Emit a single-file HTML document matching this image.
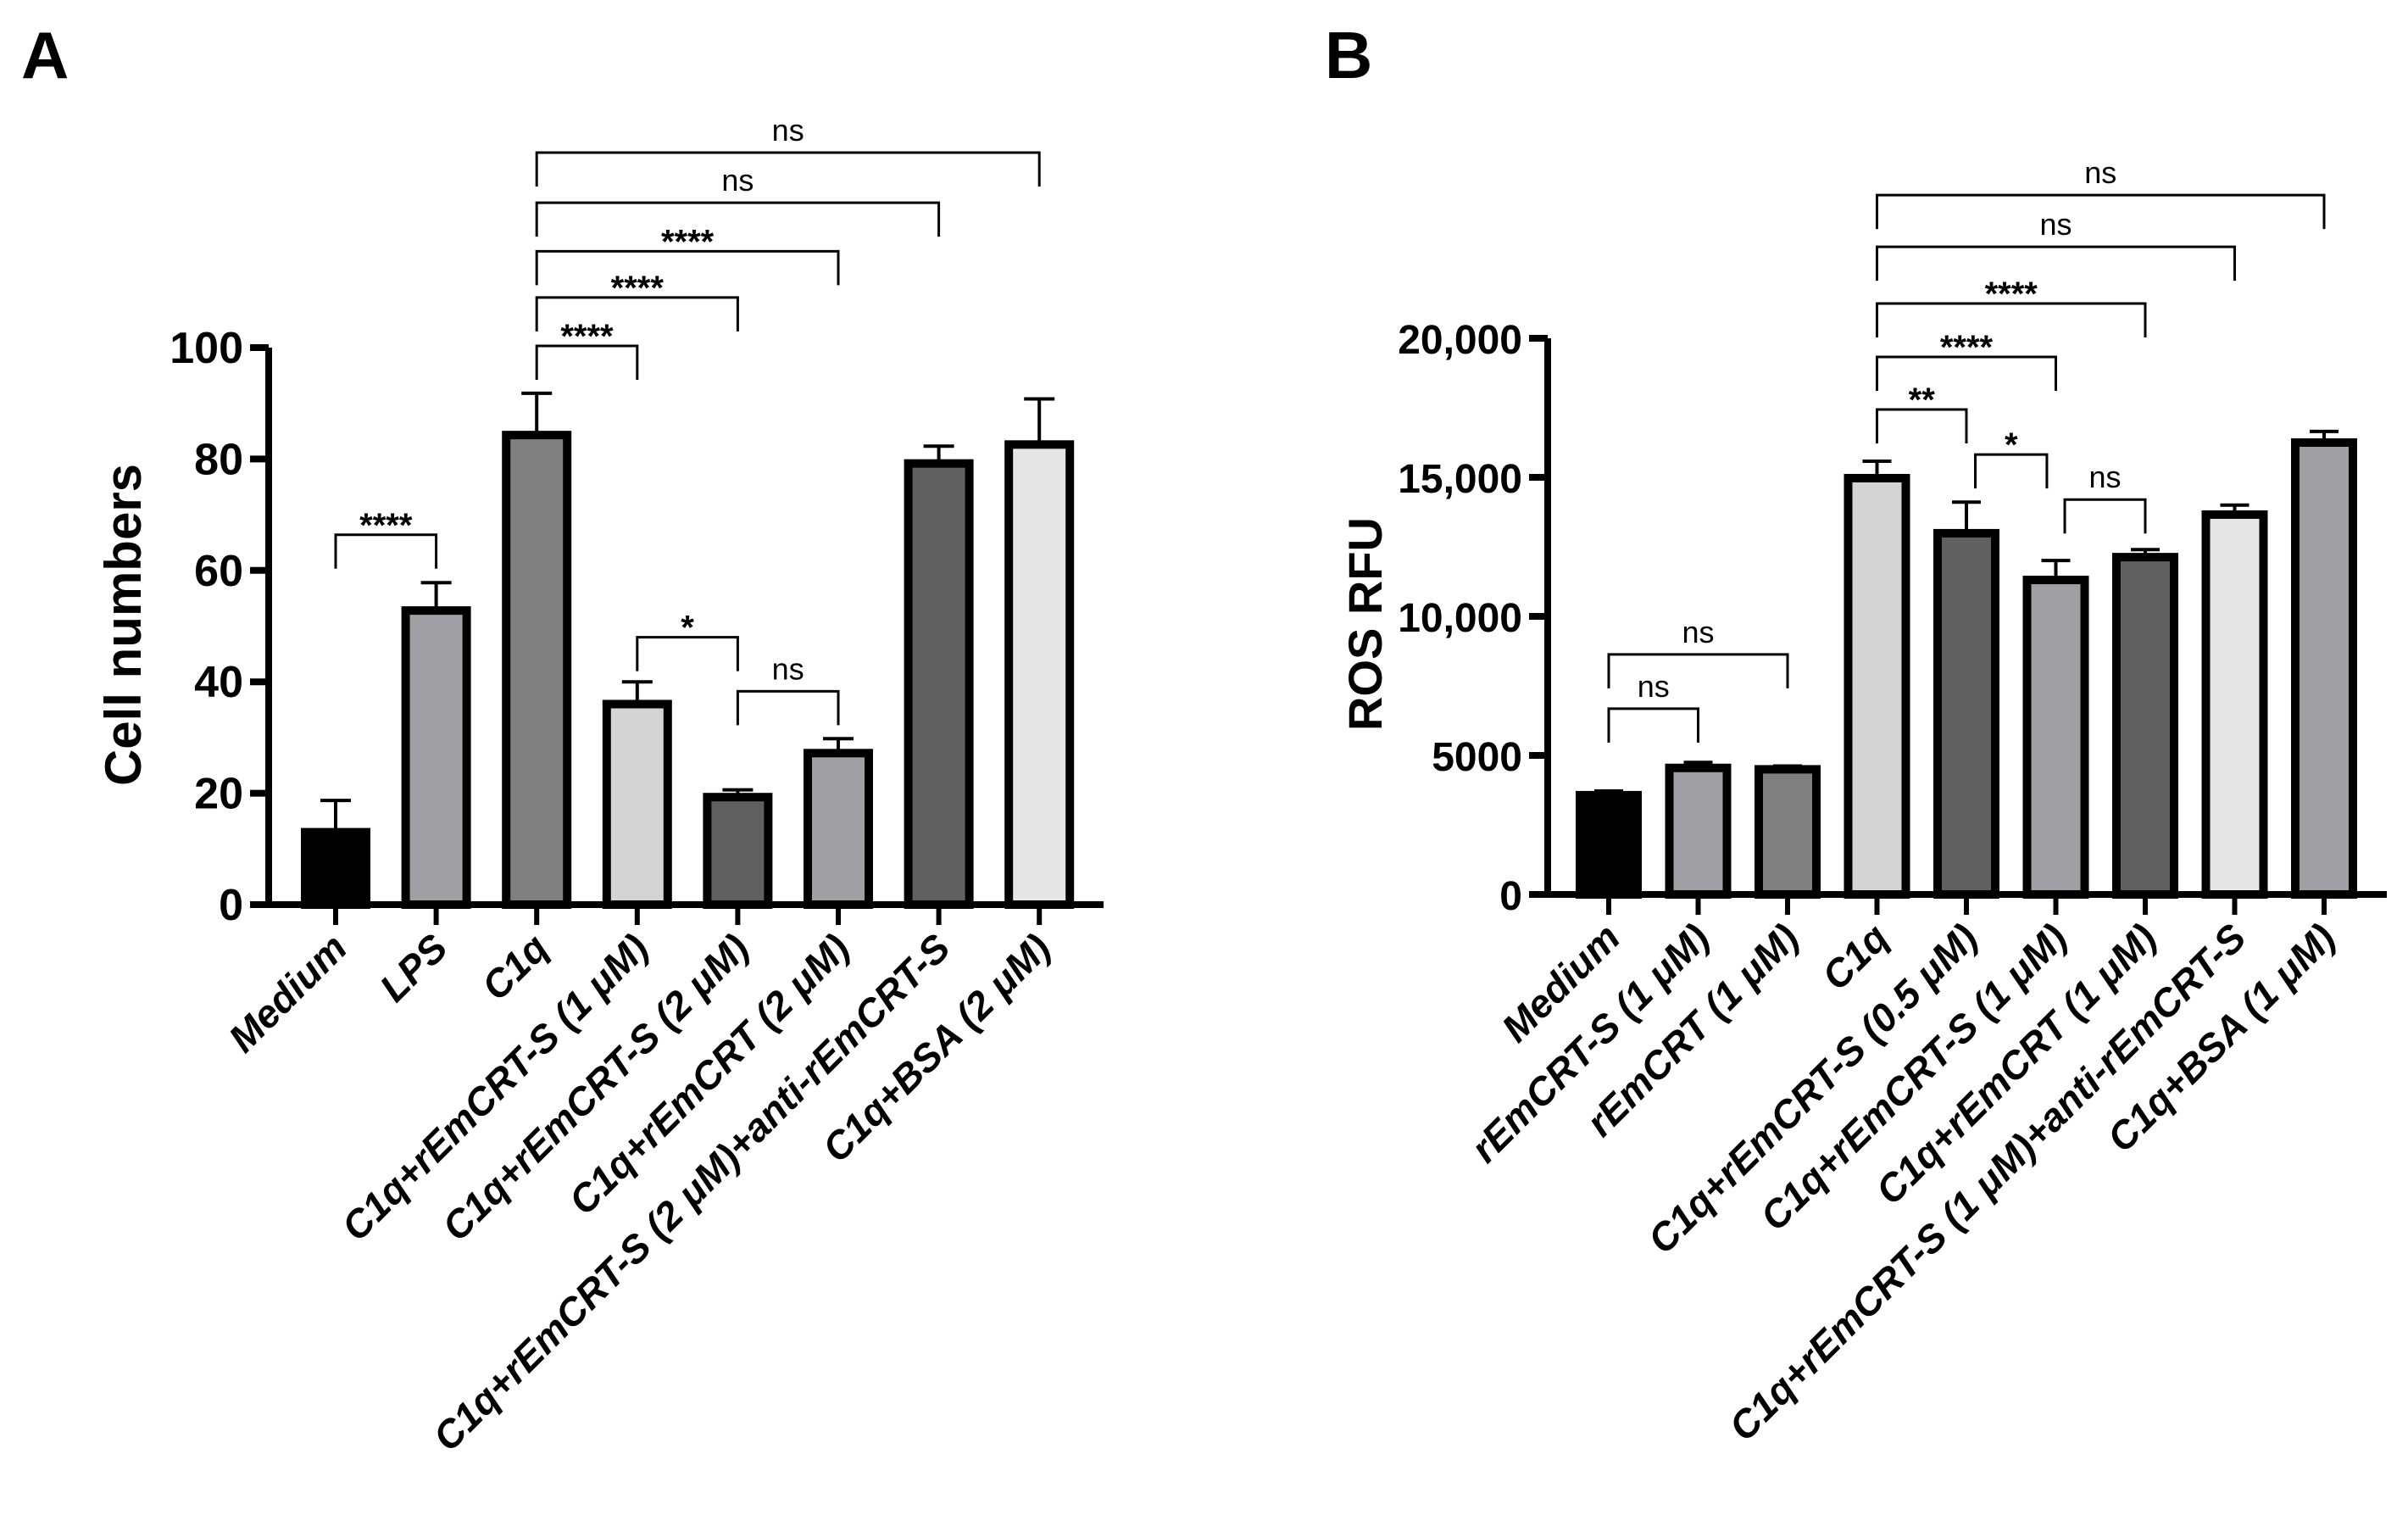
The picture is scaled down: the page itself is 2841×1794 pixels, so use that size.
<!DOCTYPE html>
<html><head><meta charset="utf-8">
<style>
html,body{margin:0;padding:0;background:#fff}
svg{display:block}
text{font-family:"Liberation Sans",Arial,sans-serif}
</style></head>
<body>
<svg id="chart" width="2841" height="1794" viewBox="0 0 2841 1794" xmlns="http://www.w3.org/2000/svg">
<text x="25" y="92" font-size="78" font-weight="bold">A</text>
<text x="1563" y="92" font-size="78" font-weight="bold">B</text>
<text transform="translate(166,737) rotate(-90)" text-anchor="middle" font-size="60" font-weight="bold">Cell numbers</text>
<text transform="translate(1630,736) rotate(-90)" text-anchor="middle" font-size="56" font-weight="bold">ROS RFU</text>
<g id="ga"></g>
<g id="gb"></g>
</svg>
<script>
// Panel A data
const catsA = [["Medium"],["LPS"],["C1q"],["C1q+r","Em","CRT-S (1 μM)"],["C1q+r","Em","CRT-S (2 μM)"],["C1q+r","Em","CRT (2 μM)"],["C1q+r","Em","CRT-S (2 μM)+anti-r","Em","CRT-S"],["C1q+BSA (2 μM)"]];
const valsA = [13, 52.8, 84.3, 36, 19.3, 27.2, 79.2, 82.6];
const errA = [5.7, 5.0, 7.5, 4.0, 1.3, 2.6, 3.1, 8.2];
const colorsA = ["#000000","#a0a0a4","#808080","#d4d4d4","#606060","#a0a0a4","#606060","#e6e6e6"];
const ticksA = [0,20,40,60,80,100];
const tickLabelsA = ["0","20","40","60","80","100"];
// brackets: [from index, to index, label, level value]
const sigA = [[0,1,"****",66.4],[2,3,"****",100.3],[2,4,"****",109],[2,5,"****",117.3],[2,6,"ns",126],[2,7,"ns",135],[3,4,"*",48],[4,5,"ns",38.3]];

// Panel B data
const catsB = [["Medium"],["r","Em","CRT-S (1 μM)"],["r","Em","CRT (1 μM)"],["C1q"],["C1q+r","Em","CRT-S (0.5 μM)"],["C1q+r","Em","CRT-S (1 μM)"],["C1q+r","Em","CRT (1 μM)"],["C1q+r","Em","CRT-S (1 μM)+anti-r","Em","CRT-S"],["C1q+BSA (1 μM)"]];
const valsB = [3570, 4550, 4500, 14970, 12990, 11310, 12130, 13660, 16250];
const errB = [150, 200, 120, 610, 1120, 700, 270, 340, 400];
const colorsB = ["#000000","#a0a0a4","#808080","#d4d4d4","#606060","#a0a0a4","#606060","#e6e6e6","#a0a0a4"];
const ticksB = [0,5000,10000,15000,20000];
const tickLabelsB = ["0","5000","10,000","15,000","20,000"];
const sigB = [[0,1,"ns",6680],[0,2,"ns",8630],[3,4,"**",17440],[4.1,4.9,"*",15820],[5.1,6,"ns",14200],[3,5,"****",19330],[3,6,"****",21250],[3,7,"ns",23290],[3,8,"ns",25150]];

const NS="http://www.w3.org/2000/svg";
function mk(parent, tag, attrs){const e=document.createElementNS(NS,tag);for(const k in attrs)e.setAttribute(k,attrs[k]);parent.appendChild(e);return e;}

function draw(g, cfg){
  const {cats, vals, errs, colors, ticks, tickLabels, sig, ax, x0, step, bw, y0, yTop, vmax, axRight, tfs} = cfg;
  const Y = v => y0 - (v/vmax)*(y0-yTop);
  const X = i => x0 + i*step;
  vals.forEach((v,i)=>{
    const eb = mk(g,'path',{d:`M${X(i)},${Y(v)} V${Y(v+errs[i])} M${X(i)-bw*0.25},${Y(v+errs[i])} H${X(i)+bw*0.25}`,stroke:'#000','stroke-width':4,fill:'none'});
    
    
    const r = mk(g,'rect',{x:X(i)-bw/2,y:Y(v),width:bw,height:y0-Y(v),fill:colors[i],stroke:'#000','stroke-width':10});
    
    
  });
  const yl = mk(g,'path',{d:`M${ax},${Y(ticks[ticks.length-1])} V${y0} H${axRight}`,stroke:'#000','stroke-width':8,fill:'none'});
  
  
  ticks.forEach((t,i)=>{
    const tk = mk(g,'line',{x1:ax-22,x2:ax,y1:Y(t),y2:Y(t),stroke:'#000','stroke-width':8});
    
    
    const tl = mk(g,'text',{x:ax-30,y:Y(t)+18,'text-anchor':'end','font-size':tfs,'font-weight':'bold'});
    
    
    tl.textContent = tickLabels[i];
  });
  cats.forEach((c,i)=>{
    const tk = mk(g,'line',{x1:X(i),x2:X(i),y1:y0,y2:y0+24,stroke:'#000','stroke-width':6});
    
    
    const tx = mk(g,'text',{transform:`translate(${X(i)+16},${y0+54}) rotate(-45)`,'text-anchor':'end','font-size':46,'font-weight':'bold','font-style':'italic'});
    
    
    c.forEach((part,j)=>{const s=mk(tx,'tspan',{});s.textContent=part;});
  });
  sig.forEach(s=>{
    const [a,b,lab,lv]=s;
    const y=Y(lv), xa=X(a), xb=X(b);
    const p = mk(g,'path',{d:`M${xa},${y+40} V${y} H${xb} V${y+40}`,stroke:'#000','stroke-width':3,fill:'none'});
    
    
    const isStar = lab.indexOf('*')>=0;
    const t = mk(g,'text',{x:(xa+xb)/2,y:isStar?y+2:y-14,'text-anchor':'middle','font-size':isStar?40:36,'font-weight':isStar?'bold':'normal'});
    
    
    t.textContent = lab;
  });
}

draw(document.getElementById('ga'),{cats:catsA,vals:valsA,errs:errA,colors:colorsA,ticks:ticksA,tickLabels:tickLabelsA,sig:sigA,
  ax:317,x0:396,step:118.6,bw:72,y0:1067,yTop:410,vmax:100,axRight:1302,tfs:52});
draw(document.getElementById('gb'),{cats:catsB,vals:valsB,errs:errB,colors:colorsB,ticks:ticksB,tickLabels:tickLabelsB,sig:sigB,
  ax:1826,x0:1898,step:105.5,bw:68,y0:1055,yTop:399,vmax:20000,axRight:2816,tfs:48});
</script>
</body></html>
